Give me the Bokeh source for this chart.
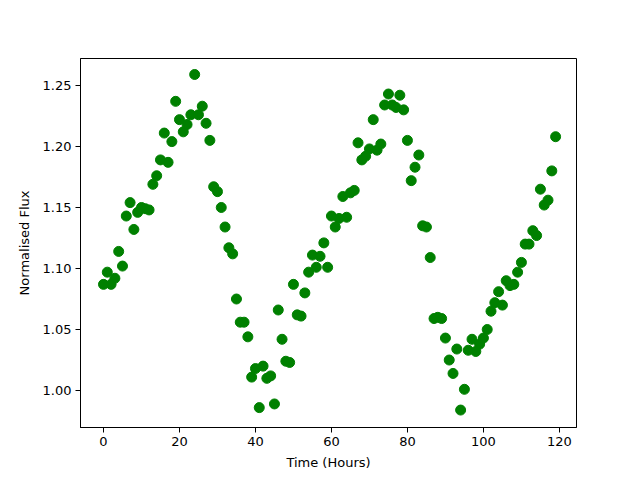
from bokeh.plotting import figure
from bokeh.models import Range1d, FixedTicker, ColumnDataSource, CustomJSTickFormatter
from bokeh.embed import file_html
from bokeh.resources import INLINE

hours = list(range(120))
flux = [
    1.087, 1.097, 1.087, 1.092, 1.114, 1.102, 1.143, 1.154, 1.132, 1.146,
    1.150, 1.149, 1.148, 1.169, 1.176, 1.189, 1.211, 1.187, 1.204, 1.237,
    1.222, 1.212, 1.218, 1.226, 1.259, 1.226, 1.233, 1.219, 1.205, 1.167,
    1.163, 1.150, 1.134, 1.117, 1.112, 1.075, 1.056, 1.056, 1.044, 1.011,
    1.018, 0.986, 1.020, 1.010, 1.012, 0.989, 1.066, 1.042, 1.024, 1.023,
    1.087, 1.062, 1.061, 1.080, 1.097, 1.111, 1.101, 1.110, 1.121, 1.101,
    1.143, 1.134, 1.141, 1.159, 1.142, 1.162, 1.164, 1.203, 1.189, 1.192,
    1.198, 1.222, 1.197, 1.202, 1.234, 1.243, 1.234, 1.232, 1.242, 1.230,
    1.205, 1.172, 1.183, 1.193, 1.135, 1.134, 1.109, 1.059, 1.060, 1.059,
    1.043, 1.025, 1.014, 1.034, 0.984, 1.001, 1.033, 1.042, 1.032, 1.038,
    1.043, 1.050, 1.065, 1.072, 1.081, 1.070, 1.090, 1.086, 1.087, 1.097,
    1.105, 1.120, 1.120, 1.131, 1.127, 1.165, 1.152, 1.156, 1.180, 1.208,
]
x_ticks = [0, 20, 40, 60, 80, 100, 120]
y_ticks = [1.00, 1.05, 1.10, 1.15, 1.20, 1.25]

src = ColumnDataSource(dict(x=hours, y=flux))

p = figure(width=632, height=472, output_backend="svg", toolbar_location=None,
           x_range=Range1d(-6.05, 124.5), y_range=Range1d(0.9697, 1.2721))
p.min_border_left = 80
p.min_border_right = 56
p.min_border_top = 58
p.min_border_bottom = 45

p.scatter("x", "y", source=src, size=10, color="#008000")

p.grid.visible = False
p.outline_line_color = "black"
p.outline_line_width = 1
p.outline_line_alpha = 1.0

p.xaxis.ticker = FixedTicker(ticks=x_ticks)
p.yaxis.ticker = FixedTicker(ticks=y_ticks)
p.yaxis.formatter = CustomJSTickFormatter(code="return tick.toFixed(2);")

for ax in (p.xaxis[0], p.yaxis[0]):
    ax.minor_tick_line_color = None
    ax.major_tick_in = 0
    ax.major_tick_out = 5
    ax.major_tick_line_color = "black"
    ax.axis_line_color = "black"
    ax.major_label_text_font = "DejaVu Sans"
    ax.major_label_text_font_size = "13px"
    ax.major_label_text_color = "black"
    ax.axis_label_text_font = "DejaVu Sans"
    ax.axis_label_text_font_size = "13px"
    ax.axis_label_text_font_style = "normal"
    ax.axis_label_text_color = "black"
    ax.major_label_standoff = 4

p.xaxis.axis_label = "Time (Hours)"
p.yaxis.axis_label = "Normalised Flux"
p.xaxis.axis_label_standoff = 6
p.yaxis.axis_label_standoff = 8

open("out.html", "w").write(file_html(p, INLINE))
